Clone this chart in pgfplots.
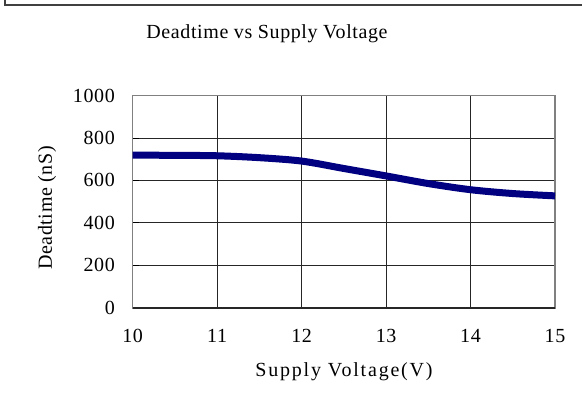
\documentclass[border=0pt]{standalone}
\usepackage{pgfplots}
\pgfplotsset{compat=1.18}
\usepackage{fontspec}
\setmainfont{Liberation Serif}
\newfontfamily\lblfont[LetterSpace=3]{Liberation Serif}
\newfontfamily\xlblfont[LetterSpace=9]{Liberation Serif}
\definecolor{navyline}{HTML}{000080}
\begin{document}
\begin{tikzpicture}
\useasboundingbox (-132.7pt,-100.3pt) rectangle (449.3pt,307.7pt);
\begin{scope}[shift={(-132.7pt,-100.3pt)}]
\draw[line width=1.6pt, draw=black!75] (5pt,408pt) -- (5pt,403pt) -- (582pt,403pt);
\node[anchor=base, font=\lblfont\fontsize{20}{24}\selectfont] at (267pt,369pt) {Deadtime vs Supply Voltage};
\node[anchor=base, font=\xlblfont\fontsize{20}{24}\selectfont] at (344pt,31.3pt) {Supply Voltage(V)};
\node[anchor=center, rotate=90, font=\lblfont\fontsize{20}{24}\selectfont] at (47pt,200pt) {Deadtime (nS)};
\end{scope}
\begin{axis}[
  scale only axis, width=422.3pt, height=212.2pt,
  xmin=10, xmax=15, ymin=0, ymax=1000,
  xtick={10,11,12,13,14,15}, ytick={0,200,400,600,800,1000},
  grid=major,
  major grid style={draw=black!85, line width=0.7pt},
  axis line style={draw=black!50, line width=1.6pt},
  tick style={draw=black, line width=0.8pt},
  major tick length=6pt,
  tick align=inside,
  xtick style={draw=none},
  ytick pos=left,
  /pgf/number format/assume math mode=true,
  /pgf/number format/1000 sep={},
  tick label style={font=\lblfont\fontsize{20}{24}\selectfont},
  xticklabel style={anchor=north, inner sep=0pt, yshift=-21.6pt},
  yticklabel style={anchor=east, inner sep=0pt, xshift=-17.7pt},
  clip=false,
]
\addplot[navyline, line width=7pt, smooth, tension=0.5] coordinates {
  (10,719) (10.5,718) (11,716) (11.5,707) (12,691) (12.5,656) (13,621) (13.5,585) (14,556) (14.5,538) (15,527)
};
\draw[black!85, line width=1.6pt] (axis cs:10,0) -- (axis cs:15,0);
\end{axis}
\end{tikzpicture}
\end{document}
